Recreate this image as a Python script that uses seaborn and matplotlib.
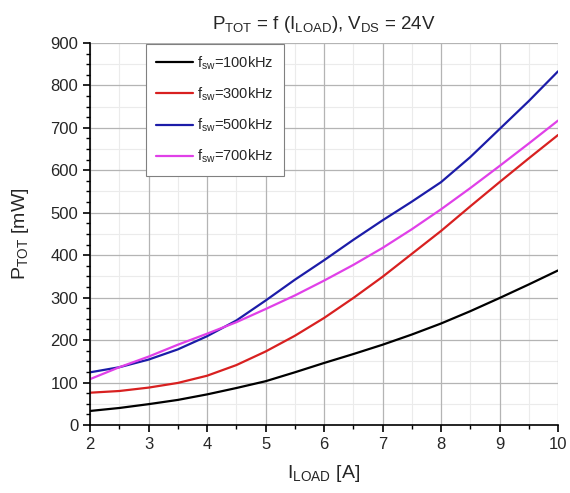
import numpy as np
import pandas as pd
import matplotlib
matplotlib.use("Agg")
import matplotlib.pyplot as plt
import seaborn as sns
from matplotlib.ticker import MultipleLocator

i_load = [2, 2.5, 3, 3.5, 4, 4.5, 5, 5.5, 6, 6.5, 7, 7.5, 8, 8.5, 9, 9.5, 10]
p_100k = [33, 40, 49, 59, 72, 87, 103, 124, 146, 167, 189, 213, 239, 268, 299, 331, 364]
p_300k = [76, 80, 88, 99, 116, 141, 173, 210, 252, 299, 349, 403, 457, 515, 572, 628, 683]
p_500k = [124, 136, 154, 178, 209, 246, 293, 342, 388, 436, 482, 526, 572, 631, 697, 763, 833]
p_700k = [108, 136, 161, 189, 215, 242, 273, 305, 340, 377, 417, 461, 508, 558, 610, 663, 717]
labels = [r"$\mathregular{f_{sw}}$=100kHz", r"$\mathregular{f_{sw}}$=300kHz",
          r"$\mathregular{f_{sw}}$=500kHz", r"$\mathregular{f_{sw}}$=700kHz"]
colors = ["#000000", "#d82020", "#1c1ca8", "#e040e8"]

frames = []
for lab, vals in zip(labels, [p_100k, p_300k, p_500k, p_700k]):
    frames.append(pd.DataFrame({"I": i_load, "P": vals, "f": lab}))
df = pd.concat(frames, ignore_index=True)

sns.set_style("white")
plt.rcParams["font.family"] = ["Liberation Sans", "DejaVu Sans"]
plt.rcParams["mathtext.fontset"] = "custom"
plt.rcParams["mathtext.rm"] = "Liberation Sans"
plt.rcParams["mathtext.it"] = "Liberation Sans"

fig = plt.figure(figsize=(5.70, 4.93), dpi=100)
ax = fig.add_axes([0.158, 0.138, 0.821, 0.775])

sns.lineplot(data=df, x="I", y="P", hue="f", palette=colors, linewidth=1.6, ax=ax)

ax.set_xlim(2, 10)
ax.set_ylim(0, 900)
ax.xaxis.set_major_locator(MultipleLocator(1))
ax.xaxis.set_minor_locator(MultipleLocator(0.5))
ax.yaxis.set_major_locator(MultipleLocator(100))
ax.yaxis.set_minor_locator(MultipleLocator(25))
ax.grid(which="major", color="#b4b4b4", linewidth=0.9)
ax.grid(which="minor", axis="x", color="#ebebeb", linewidth=0.8)
for yv in np.arange(50, 900, 100):
    ax.axhline(yv, color="#ebebeb", linewidth=0.8, zorder=0.5)
ax.set_axisbelow(True)
for s in ["top", "right"]:
    ax.spines[s].set_visible(False)
for s in ["left", "bottom"]:
    ax.spines[s].set_color("black")
    ax.spines[s].set_linewidth(1.2)
ax.tick_params(which="major", direction="out", length=5, width=1.2, labelsize=12,
               color="black", left=True, bottom=True)
ax.tick_params(which="minor", direction="out", length=3, width=1.0, color="black",
               left=True, bottom=True)

ax.set_xlabel(r"$\mathregular{I_{LOAD}}$ [A]", fontsize=14, labelpad=8)
ax.set_ylabel(r"$\mathregular{P_{TOT}}$ [mW]", fontsize=14, labelpad=14)
ax.set_title(r"$\mathregular{P_{TOT}}$ = f ($\mathregular{I_{LOAD}}$), $\mathregular{V_{DS}}$ = 24V",
             fontsize=13.5, pad=10)

leg = ax.legend(title=None, loc="upper left", bbox_to_anchor=(0.12, 0.997), fontsize=10.5,
                frameon=True, fancybox=False, edgecolor="#808080", framealpha=1,
                handlelength=2.5, labelspacing=0.95, borderpad=0.7, handletextpad=0.3,
                borderaxespad=0.0)
leg.get_frame().set_linewidth(0.8)

fig.savefig("out.png", dpi=100)
